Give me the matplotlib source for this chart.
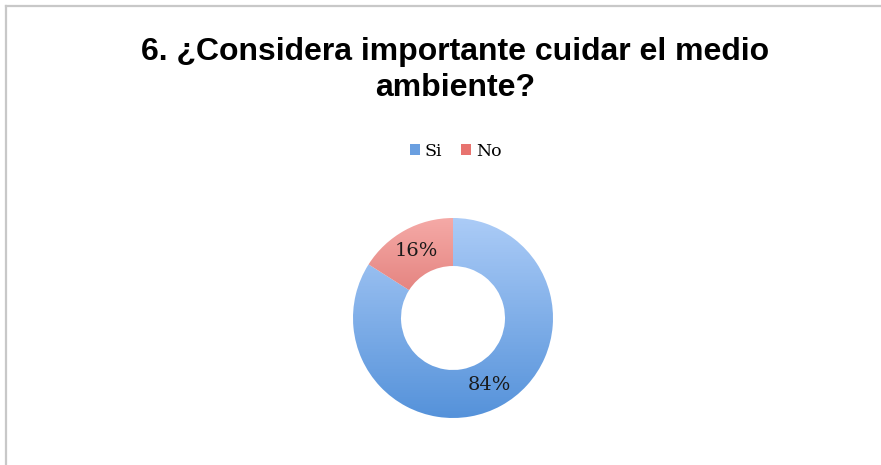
import numpy as np
import matplotlib
matplotlib.use("Agg")
import matplotlib.pyplot as plt
from matplotlib.colors import LinearSegmentedColormap
from matplotlib.lines import Line2D
from matplotlib.patches import Rectangle

title = "6. ¿Considera importante cuidar el medio\nambiente?"
categories = ["Si", "No"]
values = [84, 16]

W, H = 881, 465
fig = plt.figure(figsize=(W / 100, H / 100), dpi=100)
fig.patch.set_facecolor("white")

# frame lines
fig.add_artist(Line2D([6 / W, 6 / W], [0, 1 - 6 / H], color="#c8c8c8", lw=1.6))
fig.add_artist(Line2D([6 / W, 1], [1 - 6 / H, 1 - 6 / H], color="#c8c8c8", lw=1.6))

fig.text(455 / W, 1 - 70 / H, title, ha="center", va="center",
         fontsize=23, fontweight="bold", family="Liberation Sans",
         linespacing=1.27, color="black")

cx, cy, R = 453, 318, 100
ax = fig.add_axes([(cx - R) / W, (H - cy - R) / H, 2 * R / W, 2 * R / H])
wedges, texts, autotexts = ax.pie(
    values, startangle=90, counterclock=False, radius=1,
    wedgeprops=dict(width=0.48, linewidth=0, edgecolor="none"),
    autopct="%1.0f%%", pctdistance=0.76,
    textprops=dict(family="DejaVu Serif", fontsize=14, color="#1a1a1a"))
ax.set_xlim(-1, 1)
ax.set_ylim(-1, 1)
ax.set_aspect("auto")
ax.axis("off")

grads = [("#acccf7", "#5592da"), ("#f5aaa7", "#c9443f")]
grad = np.linspace(0, 1, 256).reshape(-1, 1)
for w, (top, bot) in zip(wedges, grads):
    cmap = LinearSegmentedColormap.from_list("g", [top, bot])
    w.set_facecolor("none")
    im = ax.imshow(grad, extent=(-1, 1, -1, 1), origin="upper", cmap=cmap,
                   aspect="auto", zorder=0.5)
    im.set_clip_path(w)
for t in autotexts:
    t.set_zorder(3)

# legend
handles = [Rectangle((0, 0), 1, 1, facecolor=c, edgecolor="none")
           for c in ["#6a9fe0", "#e8736f"]]
leg = fig.legend(handles, categories, loc="center", bbox_to_anchor=(456 / W, 1 - 151 / H),
                 ncol=2, frameon=False, prop=dict(family="DejaVu Serif", size=12.5),
                 handlelength=0.55, handleheight=0.55, handletextpad=0.3, columnspacing=1.1)

fig.savefig("out.png", dpi=100)
